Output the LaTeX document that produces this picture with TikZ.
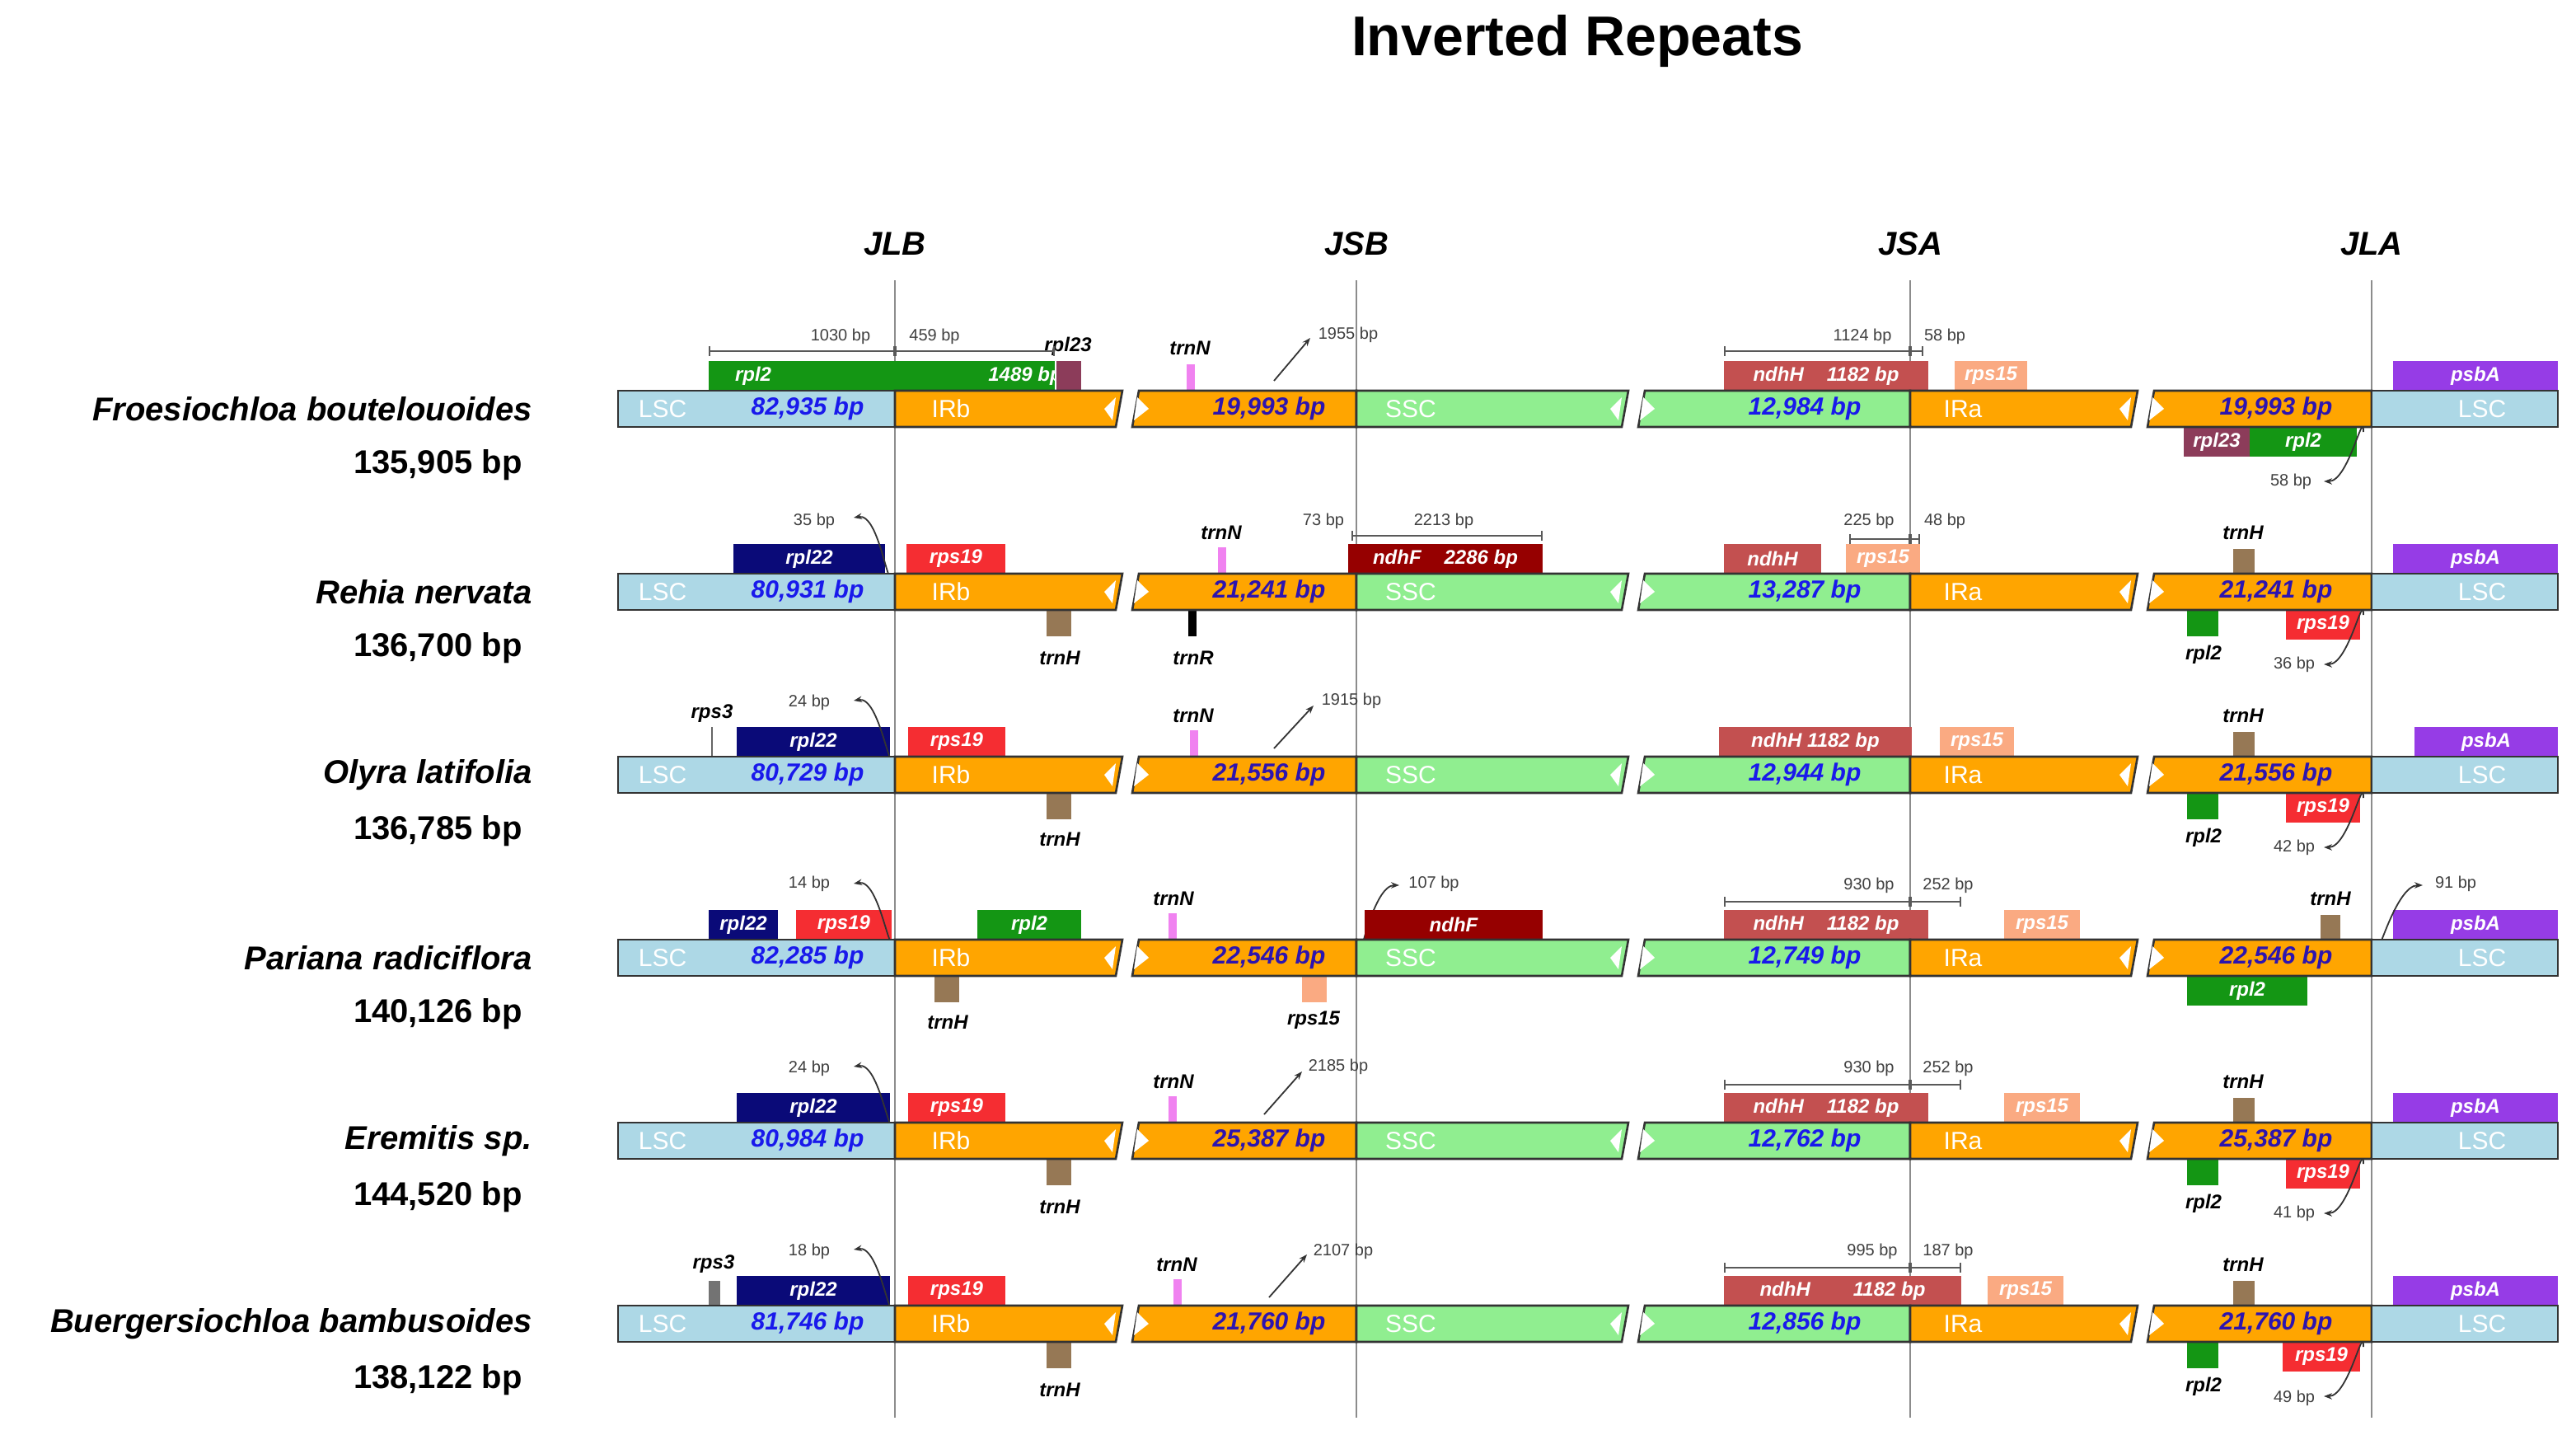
\documentclass[tikz,border=0pt]{standalone}
\usepackage{fontspec}
\setmainfont{Liberation Sans}
\usetikzlibrary{arrows.meta}

\definecolor{lscblue}{RGB}{173,216,230}
\definecolor{irorange}{RGB}{255,165,0}
\definecolor{sscgreen}{RGB}{144,238,144}
\definecolor{numblue}{RGB}{25,25,235}
\definecolor{irnum}{RGB}{45,20,175}
\definecolor{rplgreen}{RGB}{20,150,20}
\definecolor{rplpurple}{RGB}{140,60,90}
\definecolor{rplnavy}{RGB}{10,10,120}
\definecolor{rpsred}{RGB}{245,45,50}
\definecolor{ndhhred}{RGB}{195,80,80}
\definecolor{ndhfred}{RGB}{150,0,0}
\definecolor{rpssalmon}{RGB}{250,170,130}
\definecolor{psbapurple}{RGB}{150,60,230}
\definecolor{trnbrown}{RGB}{150,120,85}
\definecolor{trnpink}{RGB}{240,130,240}

\tikzset{
  seg/.style={draw=black!80, line width=1.3},
  glab/.style={font=\fontsize{12}{12}\selectfont\bfseries\itshape, text=white, inner sep=0},
  olab/.style={font=\fontsize{12}{12}\selectfont\bfseries\itshape, inner sep=0},
  bplab/.style={font=\fontsize{10}{10}\selectfont, text=black!75, inner sep=0},
  dim/.style={black!65, line width=0.8, {Bar[width=6pt]}-{Bar[width=6pt]}},
  note/.style={black!80, line width=0.9, -{Stealth[length=5pt]}},
}

% genome bar: center y, LSC size, IR size, SSC size
\newcommand\genome[4]{%
  \draw[seg, fill=lscblue] (375,#1-11) rectangle (543,#1+11);
  \draw[seg, fill=irorange] (543,#1-11) -- (681,#1-11) -- (677,#1+11) -- (543,#1+11) -- cycle;
  \fill[white] (677,#1-7) -- (670,#1) -- (675,#1+7) -- cycle;
  \draw[seg, fill=irorange] (691,#1-11) -- (823,#1-11) -- (823,#1+11) -- (687,#1+11) -- cycle;
  \fill[white] (690,#1-7) -- (697,#1) -- (688,#1+7) -- cycle;
  \draw[seg, fill=sscgreen] (823,#1-11) -- (988,#1-11) -- (984,#1+11) -- (823,#1+11) -- cycle;
  \fill[white] (984,#1-7) -- (977,#1) -- (982,#1+7) -- cycle;
  \draw[seg, fill=sscgreen] (998,#1-11) -- (1159,#1-11) -- (1159,#1+11) -- (994,#1+11) -- cycle;
  \fill[white] (997,#1-7) -- (1004,#1) -- (995,#1+7) -- cycle;
  \draw[seg, fill=irorange] (1159,#1-11) -- (1297,#1-11) -- (1293,#1+11) -- (1159,#1+11) -- cycle;
  \fill[white] (1293,#1-7) -- (1286,#1) -- (1291,#1+7) -- cycle;
  \draw[seg, fill=irorange] (1307,#1-11) -- (1439,#1-11) -- (1439,#1+11) -- (1303,#1+11) -- cycle;
  \fill[white] (1306,#1-7) -- (1313,#1) -- (1304,#1+7) -- cycle;
  \draw[seg, fill=lscblue] (1439,#1-11) rectangle (1552,#1+11);
  \node[font=\fontsize{15}{15}\selectfont, text=white, inner sep=0] at (402,#1) {LSC};
  \node[font=\fontsize{15}{15}\selectfont, text=white, inner sep=0] at (577,#1) {IRb};
  \node[font=\fontsize{15}{15}\selectfont, text=white, inner sep=0] at (856,#1) {SSC};
  \node[font=\fontsize{15}{15}\selectfont, text=white, inner sep=0] at (1191,#1) {IRa};
  \node[font=\fontsize{15}{15}\selectfont, text=white, inner sep=0] at (1506,#1) {LSC};
  \node[font=\fontsize{15}{15}\selectfont\bfseries\itshape, text=numblue, inner sep=0] at (490,#1) {#2};
  \node[font=\fontsize{15}{15}\selectfont\bfseries\itshape, text=irnum, inner sep=0] at (770,#1) {#3};
  \node[font=\fontsize{15}{15}\selectfont\bfseries\itshape, text=numblue, inner sep=0] at (1095,#1) {#4};
  \node[font=\fontsize{15}{15}\selectfont\bfseries\itshape, text=irnum, inner sep=0] at (1381,#1) {#3};
}
% gene box above / below the bar: center y, x1, x2, colour, label
\newcommand\geneup[5]{%
  \fill[#4] (#2,#1-29) rectangle (#3,#1-11);
  \node[glab] at ({(#2+#3)/2},#1-20) {#5};
}
\newcommand\genedn[5]{%
  \fill[#4] (#2,#1+11) rectangle (#3,#1+29);
  \node[glab] at ({(#2+#3)/2},#1+20) {#5};
}
\newcommand\species[3]{%
  \node[anchor=east, font=\fontsize{20}{20}\selectfont\bfseries\itshape, inner sep=0] at (323,#1) {#2};
  \node[anchor=east, font=\fontsize{20}{20}\selectfont\bfseries, inner sep=0] at (317,#1+34) {#3};
}

\begin{document}
\begin{tikzpicture}[x=1pt,y=1pt,yscale=-1]
\useasboundingbox[fill=white] (0,0) rectangle (1563,870);

% title and junctions
\node[font=\fontsize{34}{34}\selectfont\bfseries, inner sep=0] (title) at (957,25) {Inverted Repeats};
\foreach \jx/\jn in {543/JLB, 823/JSB, 1159/JSA, 1439/JLA}{
  \node[font=\fontsize{20}{20}\selectfont\bfseries\itshape, inner sep=0] (\jn) at (\jx,148) {\jn};
  \draw[black!45, line width=1] (\jx,170) -- (\jx,860);
}

% Froesiochloa
\geneup{248}{430}{640}{rplgreen}{}
\node[glab] at (457,228) {rpl2};
\node[glab] at (622,228) {1489 bp};
\geneup{248}{641}{656}{rplpurple}{}
\node[olab] at (648,210) {rpl23};
\draw[dim] (430,213) -- (543,213);
\draw[dim] (543,213) -- (640,213);
\node[bplab] at (510,204) {1030 bp};
\node[bplab] at (567,204) {459 bp};
\fill[trnpink] (720,221) rectangle (725,237);
\node[olab] at (722,211) {trnN};
\draw[note] (773,231) -- (795,205);
\node[bplab] at (818,203) {1955 bp};
\geneup{248}{1046}{1170}{ndhhred}{ndhH\hspace{14pt}1182 bp}
\draw[dim] (1046,213) -- (1159,213);
\draw[dim] (1159,213) -- (1167,213);
\node[bplab] at (1130,204) {1124 bp};
\node[bplab] at (1180,204) {58 bp};
\geneup{248}{1186}{1230}{rpssalmon}{rps15}
\geneup{248}{1452}{1552}{psbapurple}{psbA}
\genedn{248}{1325}{1365}{rplpurple}{rpl23}
\genedn{248}{1365}{1430}{rplgreen}{rpl2}
\draw[note] (1434,262) to[out=-90,in=0] (1410,292);
\node[bplab] at (1390,292) {58 bp};
\genome{248}{82,935 bp}{19,993 bp}{12,984 bp}
\species{248}{Froesiochloa boutelouoides}{135,905 bp}

% Rehia
\geneup{359}{445}{537}{rplnavy}{rpl22}
\geneup{359}{550}{610}{rpsred}{rps19}
\draw[note] (542,348) to[out=100,in=-10] (518,314);
\node[bplab] at (494,316) {35 bp};
\fill[trnpink] (739,332) rectangle (744,348);
\node[olab] at (741,323) {trnN};
\geneup{359}{818}{936}{ndhfred}{ndhF\hspace{14pt}2286 bp}
\draw[dim] (820,325) -- (936,325);
\node[bplab] at (803,316) {73 bp};
\node[bplab] at (876,316) {2213 bp};
\geneup{359}{1046}{1105}{ndhhred}{ndhH}
\geneup{359}{1120}{1165}{rpssalmon}{rps15}
\draw[dim] (1122,327) -- (1159,327);
\draw[dim] (1159,327) -- (1165,327);
\node[bplab] at (1134,316) {225 bp};
\node[bplab] at (1180,316) {48 bp};
\fill[trnbrown] (1355,333) rectangle (1368,348);
\node[olab] at (1361,323) {trnH};
\geneup{359}{1452}{1552}{psbapurple}{psbA}
\fill[trnbrown] (635,370) rectangle (650,386);
\node[olab] at (643,399) {trnH};
\fill[black] (721,370) rectangle (726,386);
\node[olab] at (724,399) {trnR};
\fill[rplgreen] (1327,370) rectangle (1346,386);
\node[olab] at (1337,397) {rpl2};
\genedn{359}{1387}{1432}{rpsred}{rps19}
\draw[note] (1434,373) to[out=-90,in=0] (1410,403);
\node[bplab] at (1392,403) {36 bp};
\genome{359}{80,931 bp}{21,241 bp}{13,287 bp}
\species{359}{Rehia nervata}{136,700 bp}

% Olyra
\draw[black!60, line width=1] (432,459) -- (432,441);
\node[olab] at (432,433) {rps3};
\geneup{470}{447}{540}{rplnavy}{rpl22}
\geneup{470}{551}{610}{rpsred}{rps19}
\draw[note] (543,459) to[out=100,in=-10] (518,425);
\node[bplab] at (491,426) {24 bp};
\fill[trnpink] (722,443) rectangle (727,459);
\node[olab] at (724,434) {trnN};
\draw[note] (773,454) -- (797,428);
\node[bplab] at (820,425) {1915 bp};
\geneup{470}{1043}{1160}{ndhhred}{ndhH 1182 bp}
\geneup{470}{1177}{1222}{rpssalmon}{rps15}
\fill[trnbrown] (1355,444) rectangle (1368,459);
\node[olab] at (1361,434) {trnH};
\geneup{470}{1465}{1552}{psbapurple}{psbA}
\fill[trnbrown] (635,481) rectangle (650,497);
\node[olab] at (643,509) {trnH};
\fill[rplgreen] (1327,481) rectangle (1346,497);
\node[olab] at (1337,508) {rpl2};
\genedn{470}{1387}{1432}{rpsred}{rps19}
\draw[note] (1434,484) to[out=-90,in=0] (1410,514);
\node[bplab] at (1392,514) {42 bp};
\genome{470}{80,729 bp}{21,556 bp}{12,944 bp}
\species{470}{Olyra latifolia}{136,785 bp}

% Pariana
\geneup{581}{430}{472}{rplnavy}{rpl22}
\geneup{581}{483}{541}{rpsred}{rps19}
\draw[note] (543,570) to[out=100,in=-10] (518,536);
\node[bplab] at (491,536) {14 bp};
\geneup{581}{593}{656}{rplgreen}{rpl2}
\fill[trnpink] (709,554) rectangle (714,570);
\node[olab] at (712,545) {trnN};
\draw[note] (827,570) to[out=100,in=180] (849,537);
\node[bplab] at (870,536) {107 bp};
\geneup{581}{828}{936}{ndhfred}{ndhF}
\geneup{581}{1046}{1170}{ndhhred}{ndhH\hspace{14pt}1182 bp}
\draw[dim] (1046,547) -- (1159,547);
\draw[dim] (1159,547) -- (1190,547);
\node[bplab] at (1134,537) {930 bp};
\node[bplab] at (1182,537) {252 bp};
\geneup{581}{1216}{1262}{rpssalmon}{rps15}
\fill[trnbrown] (1408,555) rectangle (1420,570);
\node[olab] at (1414,545) {trnH};
\geneup{581}{1452}{1552}{psbapurple}{psbA}
\draw[note] (1444,570) to[out=100,in=180] (1470,537);
\node[bplab] at (1490,536) {91 bp};
\fill[trnbrown] (567,592) rectangle (582,608);
\node[olab] at (575,620) {trnH};
\fill[rpssalmon] (790,592) rectangle (805,608);
\node[olab] at (797,619) {rps15};
\genedn{581}{1327}{1400}{rplgreen}{rpl2}
\genome{581}{82,285 bp}{22,546 bp}{12,749 bp}
\species{581}{Pariana radiciflora}{140,126 bp}

% Eremitis
\geneup{692}{447}{540}{rplnavy}{rpl22}
\geneup{692}{551}{610}{rpsred}{rps19}
\draw[note] (543,681) to[out=100,in=-10] (518,647);
\node[bplab] at (491,648) {24 bp};
\fill[trnpink] (709,665) rectangle (714,681);
\node[olab] at (712,656) {trnN};
\draw[note] (767,676) -- (790,650);
\node[bplab] at (812,647) {2185 bp};
\geneup{692}{1046}{1170}{ndhhred}{ndhH\hspace{14pt}1182 bp}
\draw[dim] (1046,658) -- (1159,658);
\draw[dim] (1159,658) -- (1190,658);
\node[bplab] at (1134,648) {930 bp};
\node[bplab] at (1182,648) {252 bp};
\geneup{692}{1216}{1262}{rpssalmon}{rps15}
\fill[trnbrown] (1355,666) rectangle (1368,681);
\node[olab] at (1361,656) {trnH};
\geneup{692}{1452}{1552}{psbapurple}{psbA}
\fill[trnbrown] (635,703) rectangle (650,719);
\node[olab] at (643,732) {trnH};
\fill[rplgreen] (1327,703) rectangle (1346,719);
\node[olab] at (1337,730) {rpl2};
\genedn{692}{1387}{1432}{rpsred}{rps19}
\draw[note] (1434,706) to[out=-90,in=0] (1410,736);
\node[bplab] at (1392,736) {41 bp};
\genome{692}{80,984 bp}{25,387 bp}{12,762 bp}
\species{692}{Eremitis sp.}{144,520 bp}

% Buergersiochloa
\fill[black!55] (430,777) rectangle (437,792);
\node[olab] at (433,767) {rps3};
\geneup{803}{447}{540}{rplnavy}{rpl22}
\geneup{803}{551}{610}{rpsred}{rps19}
\draw[note] (543,792) to[out=100,in=-10] (518,758);
\node[bplab] at (491,759) {18 bp};
\fill[trnpink] (712,776) rectangle (717,792);
\node[olab] at (714,767) {trnN};
\draw[note] (770,787) -- (793,761);
\node[bplab] at (815,759) {2107 bp};
\geneup{803}{1046}{1190}{ndhhred}{ndhH\hspace{26pt}1182 bp}
\draw[dim] (1046,769) -- (1159,769);
\draw[dim] (1159,769) -- (1190,769);
\node[bplab] at (1136,759) {995 bp};
\node[bplab] at (1182,759) {187 bp};
\geneup{803}{1206}{1252}{rpssalmon}{rps15}
\fill[trnbrown] (1355,777) rectangle (1368,792);
\node[olab] at (1361,767) {trnH};
\geneup{803}{1452}{1552}{psbapurple}{psbA}
\fill[trnbrown] (635,814) rectangle (650,830);
\node[olab] at (643,843) {trnH};
\fill[rplgreen] (1327,814) rectangle (1346,830);
\node[olab] at (1337,841) {rpl2};
\genedn{803}{1385}{1432}{rpsred}{rps19}
\draw[note] (1434,817) to[out=-90,in=0] (1410,847);
\node[bplab] at (1392,848) {49 bp};
\genome{803}{81,746 bp}{21,760 bp}{12,856 bp}
\species{803}{Buergersiochloa bambusoides}{138,122 bp}
\end{tikzpicture}
\end{document}
